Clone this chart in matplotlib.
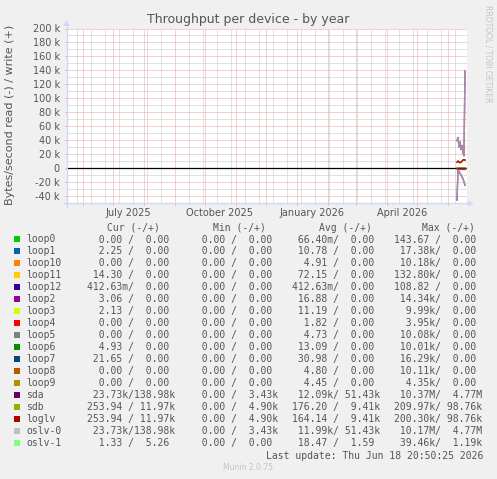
import matplotlib
matplotlib.use("Agg")
import matplotlib.pyplot as plt
import matplotlib.dates as mdates
from matplotlib.patches import Polygon, Rectangle
from matplotlib.lines import Line2D
from datetime import datetime, timedelta

# ---------------- data ----------------
names = ["loop0", "loop1", "loop10", "loop11", "loop12", "loop2", "loop3", "loop4",
         "loop5", "loop6", "loop7", "loop8", "loop9", "sda", "sdb", "loglv",
         "oslv-0", "oslv-1"]
colors = ["#00CC00", "#0066B3", "#FF8000", "#FFCC00", "#330099", "#990099", "#CCFF00",
          "#FF0000", "#808080", "#008F00", "#00487D", "#B35A00", "#B38F00", "#6B006B",
          "#8FB300", "#B30000", "#BEBEBE", "#80FF80"]

cur_read = [0, 2.25, 0, 14.30, 0.41263, 3.06, 2.13, 0, 0, 4.93, 21.65, 0, 0,
            23730, 253.94, 253.94, 23730, 1.33]
cur_write = [0, 0, 0, 0, 0, 0, 0, 0, 0, 0, 0, 0, 0, 138980, 11970, 11970, 138980, 5.26]
min_read = [0] * 18
min_write = [0, 0, 0, 0, 0, 0, 0, 0, 0, 0, 0, 0, 0, 3430, 4900, 4900, 3430, 0]
avg_read = [0.06640, 10.78, 4.91, 72.15, 0.41263, 16.88, 11.19, 1.82, 4.73, 13.09,
            30.98, 4.80, 4.45, 12090, 176.20, 164.14, 11990, 18.47]
avg_write = [0, 0, 0, 0, 0, 0, 0, 0, 0, 0, 0, 0, 0, 51430, 9410, 9410, 51430, 1.59]
max_read = [143.67, 17380, 10180, 132800, 108.82, 14340, 9990, 3950, 10080, 10010,
            16290, 10110, 4350, 10370000, 209970, 200300, 10170000, 39460]
max_write = [0, 0, 0, 0, 0, 0, 0, 0, 0, 0, 0, 0, 0, 4770000, 98760, 98760, 4770000, 1190]

# daily averages (Bytes/s) for the last days of the graph
day_dates = [datetime(2026, 6, d) for d in range(10, 19)]
sda_read = [45000, 2000, 4000, 7000, 9000, 12000, 15000, 19000, 23730]
sda_write = [40000, 44000, 31000, 38000, 27000, 33000, 22000, 18000, 138980]
oslv0_read = [44500, 2100, 4100, 6900, 9100, 11800, 15200, 18900, 23730]
oslv0_write = [39500, 43500, 31500, 37500, 27500, 32500, 22500, 18500, 138980]
sdb_read = [180, 210, 170, 160, 190, 150, 170, 175, 254]
sdb_write = [9200, 10600, 9400, 8200, 8900, 10400, 12000, 12700, 11970]
loglv_read = [160, 200, 160, 150, 180, 140, 160, 165, 254]
loglv_write = [9000, 10700, 9500, 8300, 9000, 10500, 12100, 12800, 11970]
oslv1_read = [20, 25, 15, 18, 22, 16, 17, 19, 1.33]
oslv1_write = [2, 1.5, 1.8, 1.2, 1.6, 1.4, 1.7, 1.5, 5.26]
# small loop devices: read per day (write is zero)
loop_read = [
    [0.1, 0.1, 0.0, 0.1, 0.0, 0.1, 0.1, 0.0, 0.0],
    [12, 10, 11, 9, 12, 10, 11, 10, 2.25],
    [5, 4, 6, 5, 4, 5, 5, 4, 0],
    [80, 70, 75, 65, 72, 70, 74, 68, 14.30],
    [0.4, 0.4, 0.4, 0.4, 0.4, 0.4, 0.4, 0.4, 0.41],
    [18, 15, 17, 16, 18, 17, 16, 17, 3.06],
    [12, 11, 10, 12, 11, 10, 12, 11, 2.13],
    [2, 2, 1.5, 2, 1.8, 2, 1.7, 1.9, 0],
    [5, 4.5, 5, 4.7, 4.8, 4.6, 4.9, 4.7, 0],
    [14, 13, 12, 14, 13, 12, 13, 14, 4.93],
    [32, 30, 31, 29, 33, 30, 31, 32, 21.65],
    [5, 4.8, 4.7, 5, 4.9, 4.6, 4.8, 4.9, 0],
    [4.5, 4.4, 4.6, 4.3, 4.5, 4.4, 4.5, 4.4, 0],
]

y_ticks = list(range(-40000, 200001, 20000))
label_months = [datetime(2025, 7, 1), datetime(2025, 10, 1),
                datetime(2026, 1, 1), datetime(2026, 4, 1)]
label_texts = ["July 2025", "October 2025", "January 2026", "April 2026"]

x_start = datetime(2025, 5, 15, 12)
x_end = datetime(2026, 6, 19, 12)

# ---------------- layout ----------------
W, H = 497, 479
BG = "#F0F0F0"
TXT = "#555555"
AXC = "#CFD6F8"
MGRID = "#E9A5A5"
GRID = "#C4C4C4"
DOT = (0, (1, 1))
MONO = "DejaVu Sans Mono"


def fx(x):
    return x / W


def fy(y):
    return 1 - y / H


fig = plt.figure(figsize=(W / 100, H / 100), dpi=100, facecolor=BG)

ax_l, ax_r, ax_t, ax_b = 66.5, 466.5, 28.5, 203.5
ax = fig.add_axes([fx(ax_l), fy(ax_b), (ax_r - ax_l) / W, (ax_b - ax_t) / H])
ax.set_facecolor("white")
ax.set_xlim(x_start, x_end)
ax.set_ylim(-50000, 200000)

for s in ["top", "right", "left", "bottom"]:
    ax.spines[s].set_visible(False)

# y grid / ticks
ax.set_yticks(y_ticks)
ax.set_yticklabels([("0" if v == 0 else f"{v // 1000} k") for v in y_ticks])
ax.set_yticks(list(range(-30000, 200000, 20000)), minor=True)
ax.yaxis.grid(True, which="major", color=MGRID, lw=0.72, ls=DOT, snap=True)
ax.yaxis.grid(True, which="minor", color=GRID, lw=0.72, ls=DOT, snap=True)

# x grid / ticks
month_starts = []
d = datetime(2025, 6, 1)
while d < x_end:
    month_starts.append(d)
    d = datetime(d.year + (d.month // 12), d.month % 12 + 1, 1)
ax.set_xticks([mdates.date2num(m) for m in month_starts], minor=True)
ax.set_xticks([mdates.date2num(m + timedelta(days=15)) for m in label_months])
ax.set_xticklabels(label_texts)
ax.xaxis.grid(True, which="minor", color=MGRID, lw=0.72, ls=DOT, snap=True, zorder=0.6)
ax.xaxis.grid(False, which="major")

# bi-weekly minor grid (Mondays)
d = datetime(2025, 5, 26)
while d < x_end:
    if d.day != 1:
        ax.axvline(mdates.date2num(d), color=GRID, lw=0.72, ls=DOT, zorder=0.5, snap=True)
    d += timedelta(days=14)

ax.tick_params(axis="y", which="major", length=1.44, width=0.72, color=MGRID,
               pad=3.4, labelsize=7, labelcolor=TXT)
ax.tick_params(axis="y", which="minor", length=0)
ax.tick_params(axis="x", which="minor", length=1.44, width=0.72, color=MGRID)
ax.tick_params(axis="x", which="major", length=0, pad=3.2, labelsize=7, labelcolor=TXT)
ax.set_axisbelow(True)

# zero rule
ax.axhline(0, color="black", lw=0.9, zorder=2)

# series
dn = [mdates.date2num(t) for t in day_dates]
for i, lr in enumerate(loop_read):
    ax.plot(dn, [-v for v in lr], color=colors[i], lw=0.8, zorder=3)
    ax.plot(dn, [0] * len(dn), color=colors[i], lw=0.8, zorder=3)
ax.plot(dn, [-v for v in oslv1_read], color=colors[17], lw=0.8, zorder=3)
ax.plot(dn, oslv1_write, color=colors[17], lw=0.8, zorder=3)
ax.plot(dn, [-v for v in sda_read], color=colors[13], lw=1.0, zorder=4)
ax.plot(dn, sda_write, color=colors[13], lw=1.0, zorder=4)
ax.plot(dn, [-v for v in sdb_read], color=colors[14], lw=1.0, zorder=4)
ax.plot(dn, sdb_write, color=colors[14], lw=1.0, zorder=4)
ax.plot(dn, [-v for v in loglv_read], color=colors[15], lw=1.0, zorder=4)
ax.plot(dn, loglv_write, color=colors[15], lw=1.0, zorder=4)
ax.plot(dn, [-v for v in oslv0_read], color=colors[16], lw=1.0, alpha=0.75, zorder=4)
ax.plot(dn, oslv0_write, color=colors[16], lw=1.0, alpha=0.75, zorder=4)

# axes lines with arrows (pixel coordinates on figure)
fig.add_artist(Line2D([fx(ax_l), fx(ax_l)], [fy(ax_b + 3), fy(24)], color=AXC, lw=0.9))
fig.add_artist(Line2D([fx(ax_l - 3), fx(470)], [fy(ax_b), fy(ax_b)], color=AXC, lw=0.9))
fig.add_artist(Polygon([[fx(ax_l - 3.3), fy(26)], [fx(ax_l + 3.3), fy(26)], [fx(ax_l), fy(20.5)]],
                       closed=True, transform=fig.transFigure, color=AXC, lw=0))
fig.add_artist(Polygon([[fx(467.7), fy(ax_b - 3)], [fx(467.7), fy(ax_b + 3)], [fx(473.5), fy(ax_b)]],
                       closed=True, transform=fig.transFigure, color=AXC, lw=0))

# titles
fig.text(fx(248), fy(19.3), "Throughput per device - by year", fontsize=9, color=TXT,
         ha="center", va="center")
fig.text(fx(10), fy(115), "Bytes/second read (-) / write (+)", fontsize=8, color=TXT,
         rotation=90, ha="center", va="center")
fig.text(fx(488), fy(54), "RRDTOOL / TOBI OETIKER", fontsize=5.5, color="#C4C4C4",
         rotation=270, ha="center", va="center")


# legend
def si(v):
    if v == 0:
        return 0.0, " "
    prefixes = [(1e6, "M"), (1e3, "k"), (1, " "), (1e-3, "m")]
    for base, p in prefixes:
        if abs(v) >= base:
            return v / base, p
    return v / 1e-3, "m"


def fmt_r(v):
    n, p = si(v)
    return f"{n:6.2f}{p}/"


def fmt_w(v):
    n, p = si(v)
    return f"{n:6.2f}{p}"


col_x = [87.2, 189.6, 292.3, 394.3]
head_x = [107.3, 212.7, 319.0, 422.3]
heads = ["Cur (-/+)", "Min (-/+)", "Avg (-/+)", "Max (-/+)"]
for hx, ht in zip(head_x, heads):
    fig.text(fx(hx), fy(227.7), ht, fontsize=7, family=MONO, color=TXT, ha="left", va="center")

row0, drow = 239.5, 11.99
for i, name in enumerate(names):
    y = row0 + i * drow
    fig.add_artist(Rectangle((fx(14), fy(y + 3)), 6 / W, 6 / H, transform=fig.transFigure,
                             color=colors[i], lw=0))
    fig.text(fx(26.3), fy(y), name, fontsize=7, family=MONO, color=TXT, ha="left", va="center")
    cols = [(cur_read[i], cur_write[i]), (min_read[i], min_write[i]),
            (avg_read[i], avg_write[i]), (max_read[i], max_write[i])]
    for cx, (r, w) in zip(col_x, cols):
        fig.text(fx(cx), fy(y), fmt_r(r) + fmt_w(w), fontsize=7, family=MONO, color=TXT,
                 ha="left", va="center")

fig.text(fx(483), fy(456), "Last update: Thu Jun 18 20:50:25 2026", fontsize=7, family=MONO,
         color=TXT, ha="right", va="center")
fig.text(fx(248), fy(467.7), "Munin 2.0.75", fontsize=5.5, color="#C4C4C4",
         ha="center", va="center")

fig.savefig("out.png", dpi=100, facecolor=BG)
